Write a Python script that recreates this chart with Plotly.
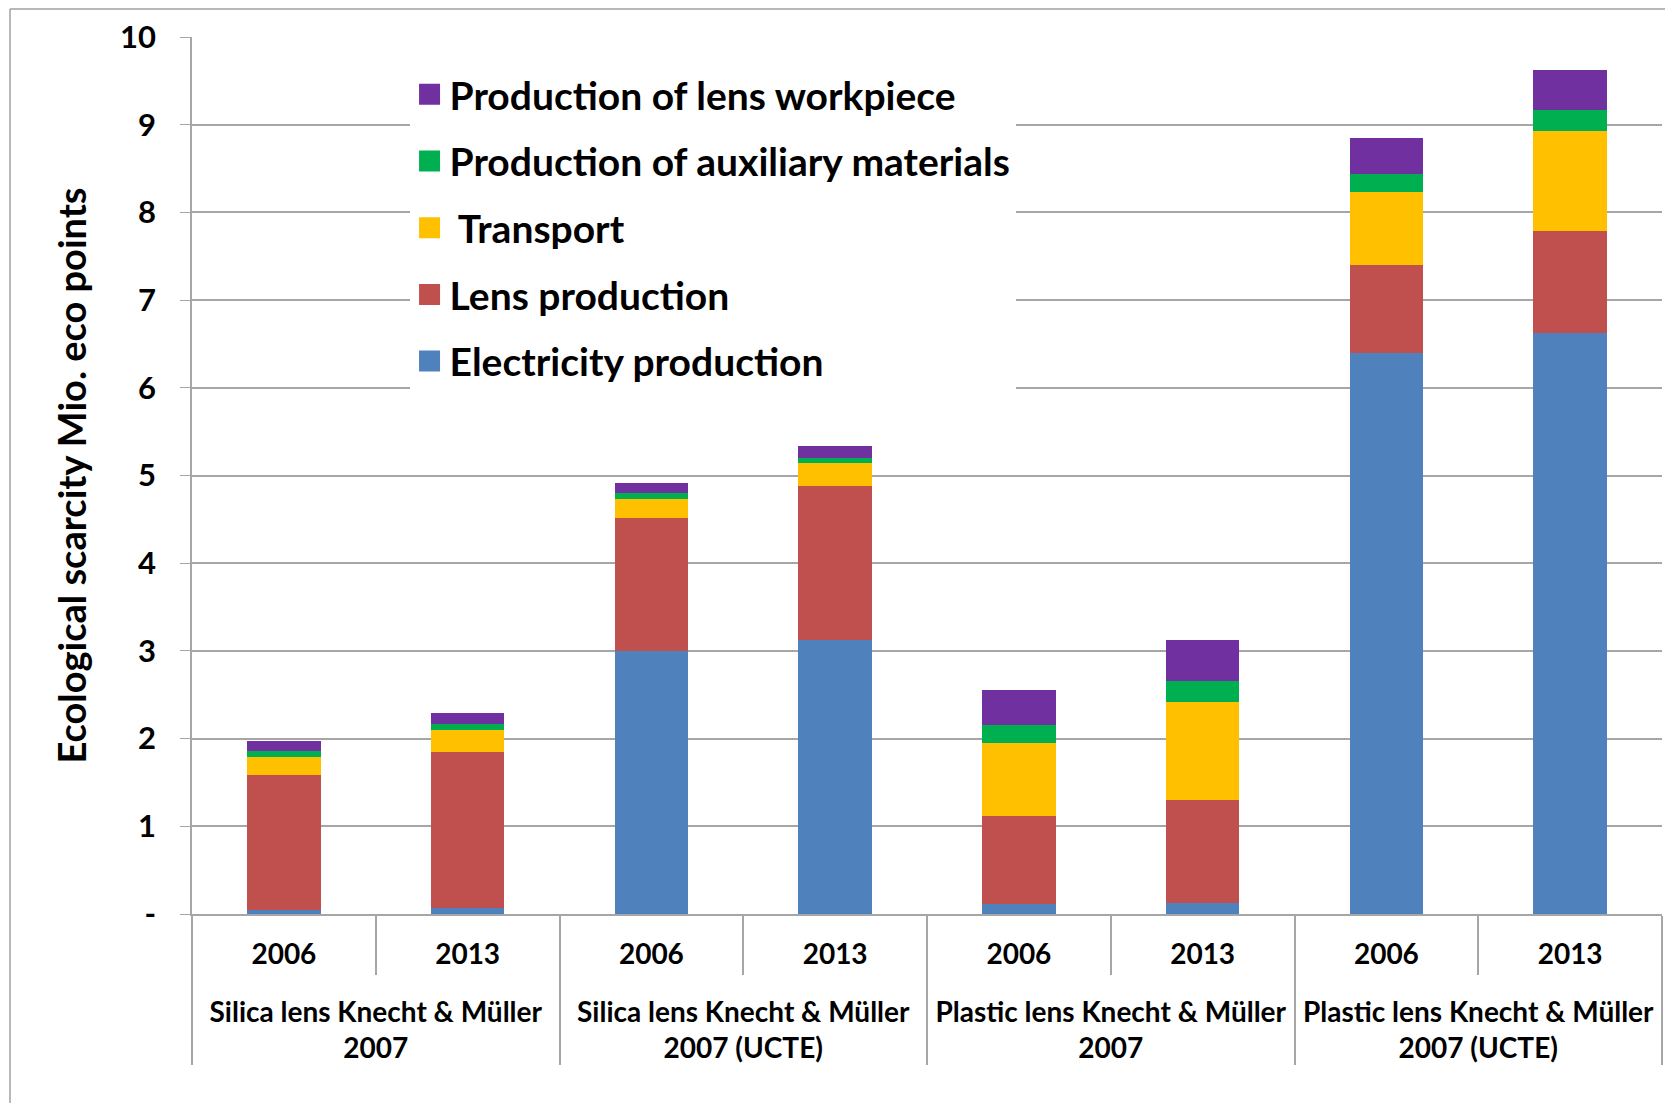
import plotly.graph_objects as go

# categories (two-level x axis); the leading blank line pushes the group
# names below the year row as in the original
groups = [
    "\u00a0<br>Silica lens Knecht & Müller<br>2007",
    "\u00a0<br>Silica lens Knecht & Müller<br>2007",
    "\u00a0<br>Silica lens Knecht & Müller<br>2007 (UCTE)",
    "\u00a0<br>Silica lens Knecht & Müller<br>2007 (UCTE)",
    "\u00a0<br>Plastic lens Knecht & Müller<br>2007",
    "\u00a0<br>Plastic lens Knecht & Müller<br>2007",
    "\u00a0<br>Plastic lens Knecht & Müller<br>2007 (UCTE)",
    "\u00a0<br>Plastic lens Knecht & Müller<br>2007 (UCTE)",
]
years = ["2006", "2013", "2006", "2013", "2006", "2013", "2006", "2013"]

# stacked components, Mio. eco points
electricity = [0.05, 0.07, 3.00, 3.12, 0.11, 0.13, 6.40, 6.63]
lens_prod = [1.53, 1.78, 1.52, 1.76, 1.01, 1.17, 1.00, 1.16]
transport = [0.21, 0.25, 0.21, 0.26, 0.83, 1.12, 0.83, 1.14]
auxiliary = [0.07, 0.065, 0.07, 0.065, 0.20, 0.24, 0.21, 0.24]
workpiece = [0.11, 0.13, 0.11, 0.13, 0.40, 0.47, 0.41, 0.45]

series = [
    ("Electricity production", electricity, "#4F81BD"),
    ("Lens production", lens_prod, "#C0504D"),
    ("\u00a0Transport", transport, "#FFC000"),
    ("Production of auxiliary materials", auxiliary, "#00B050"),
    ("Production of lens workpiece", workpiece, "#7030A0"),
]

y_ticks = [0, 1, 2, 3, 4, 5, 6, 7, 8, 9, 10]
y_ticktext = ["-", "1", "2", "3", "4", "5", "6", "7", "8", "9", "10"]

FONT = "Lato, 'Open Sans', sans-serif"
GRID = "#A6A6A6"

fig = go.Figure()
for i, (name, vals, color) in enumerate(series):
    fig.add_trace(
        go.Bar(
            x=[groups, years],
            y=vals,
            name=name,
            marker=dict(color=color, line=dict(width=0)),
            showlegend=False,
            legendgroup=str(i),
        )
    )
    # legend entry with a bigger square than the bar icon; top of stack listed first
    fig.add_trace(
        go.Scatter(
            x=[None],
            y=[None],
            mode="markers",
            name=name,
            legendgroup=str(i),
            legendrank=100 - i,
            marker=dict(symbol="square", size=16, color=color, line=dict(color=color, width=5)),
        )
    )

# plot area in screen pixels; the page body adds an 8px offset
OFF = 8
W, H = 1673, 1103
px_l, px_r, px_t, px_b = 192, 1662, 37, 914.5

# outer chart border (top and left, the rest is cropped in the original)
bx = (10 - px_l) / (px_r - px_l)
by = (px_b - (OFF + 1)) / (px_b - px_t)
fig.add_shape(type="line", xref="paper", yref="paper", x0=bx, x1=bx, y0=-0.3, y1=by,
              line=dict(color="#A0A0A0", width=1.5))
fig.add_shape(type="line", xref="paper", yref="paper", x0=bx, x1=1.1, y0=by, y1=by,
              line=dict(color="#A0A0A0", width=1.5))

fig.update_layout(
    width=W,
    height=H,
    barmode="stack",
    bargap=0.6,
    paper_bgcolor="white",
    plot_bgcolor="white",
    margin=dict(l=px_l - OFF, r=W + OFF - px_r, t=px_t - OFF, b=H + OFF - px_b, autoexpand=False),
    font=dict(family=FONT, color="black", weight="bold"),
    legend=dict(
        x=0.148,
        y=0.971,
        xanchor="left",
        yanchor="top",
        bgcolor="white",
        font=dict(family=FONT, size=39, color="black", weight="bold"),
        traceorder="grouped",
        tracegroupgap=13,
    ),
    showlegend=True,
)

fig.update_yaxes(
    range=[0, 10],
    tickvals=y_ticks,
    ticktext=y_ticktext,
    showgrid=True,
    gridcolor=GRID,
    gridwidth=1.5,
    showline=True,
    linecolor=GRID,
    linewidth=1.5,
    ticks="outside",
    ticklen=10,
    tickcolor=GRID,
    ticklabelstandoff=18,
    tickfont=dict(size=31, family=FONT, weight="bold"),
    title=dict(text="Ecological scarcity Mio. eco points", font=dict(size=38, family=FONT, weight="bold"), standoff=22),
    automargin=False,
    zeroline=False,
)

fig.update_xaxes(
    type="multicategory",
    showline=True,
    linecolor=GRID,
    linewidth=1.5,
    ticks="outside",
    tickson="boundaries",
    ticklen=59,
    tickcolor=GRID,
    tickwidth=1.5,
    ticklabelstandoff=15,
    showdividers=True,
    dividercolor=GRID,
    dividerwidth=1.5,
    tickfont=dict(size=28, family=FONT, weight="bold"),
    automargin=False,
    showgrid=False,
)

fig.write_html("out.html")
